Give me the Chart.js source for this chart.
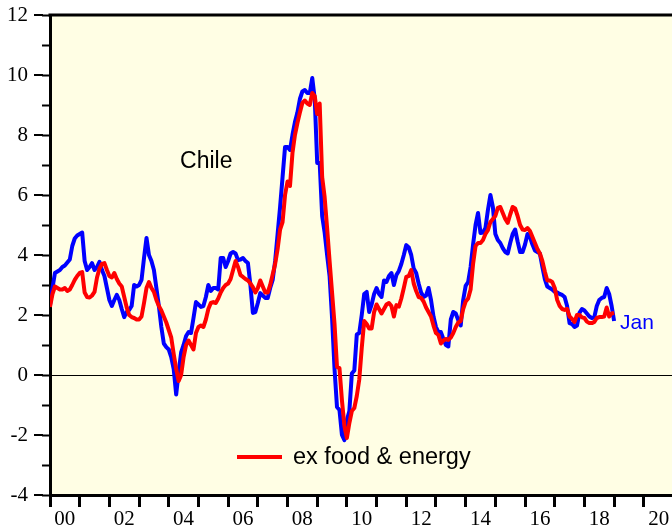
<!DOCTYPE html>
<html>
<head>
<meta charset="utf-8">
<script src="https://cdn.jsdelivr.net/npm/chart.js@4.4.1/dist/chart.umd.min.js"></script>
<style>
  html, body { margin: 0; padding: 0; background: #fff; overflow: hidden; }
</style>
</head>
<body>
<canvas id="myChart" width="672" height="529"></canvas>
<script>
// first month of the series, monthly data after that
const startYear = 2000

// headline cpi, % y/y (blue)
const headline = [
  2.33, 2.9, 3.4, 3.45, 3.5, 3.6, 3.65, 3.75, 3.85, 4.3, 4.55, 4.65,      // 2000
  4.7, 4.75, 3.8, 3.5, 3.6, 3.73, 3.5, 3.6, 3.77, 3.5, 3.3, 2.9,          // 2001
  2.5, 2.3, 2.5, 2.67, 2.5, 2.2, 1.93, 2.1, 2.17, 2.3, 3.0, 2.95,         // 2002
  3.0, 3.17, 3.9, 4.57, 4.0, 3.8, 3.5, 2.9, 2.3, 1.6, 1.05, 0.93,         // 2003
  0.85, 0.6, 0.2, -0.65, 0.1, 0.75, 1.0, 1.3, 1.43, 1.4, 1.9, 2.43,       // 2004
  2.35, 2.27, 2.3, 2.6, 3.0, 2.8, 2.9, 2.9, 2.85, 3.9, 3.9, 3.6,          // 2005
  3.8, 4.05, 4.1, 4.05, 3.83, 3.85, 3.9, 3.8, 3.73, 3.0, 2.07, 2.1,       // 2006
  2.4, 2.73, 2.65, 2.57, 2.57, 2.9, 3.17, 3.8, 4.7, 5.6, 6.6, 7.6,        // 2007
  7.6, 7.5, 8.0, 8.43, 8.75, 9.2, 9.45, 9.5, 9.4, 9.4, 9.9, 9.2,          // 2008
  7.07, 7.07, 5.3, 4.75, 4.0, 3.3, 1.9, 0.2, -1.07, -1.17, -2.0, -2.17,   // 2009
  -1.5, -1.2, 0.05, 0.15, 1.35, 1.4, 2.0, 2.7, 2.77, 2.1, 2.35, 2.7,      // 2010
  2.9, 2.7, 2.6, 3.15, 3.1, 3.3, 3.4, 3.0, 3.33, 3.47, 3.7, 4.0,          // 2011
  4.33, 4.25, 4.0, 3.55, 3.4, 3.05, 2.75, 2.6, 2.65, 2.9, 2.5, 1.95,      // 2012
  1.6, 1.43, 1.43, 1.2, 1.0, 0.95, 1.85, 2.1, 2.05, 1.83, 1.65, 2.5,      // 2013
  2.97, 3.1, 3.6, 4.35, 5.0, 5.4, 4.73, 4.75, 4.9, 5.5, 6.0, 5.6,         // 2014
  4.7, 4.5, 4.4, 4.23, 4.1, 4.05, 4.4, 4.7, 4.85, 4.45, 4.1, 4.1,         // 2015
  4.35, 4.7, 4.6, 4.35, 4.15, 4.1, 4.05, 3.6, 3.2, 2.95, 2.9, 2.85,       // 2016
  2.77, 2.75, 2.7, 2.67, 2.6, 2.3, 1.73, 1.7, 1.6, 1.65, 2.07, 2.2,       // 2017
  2.15, 2.05, 1.95, 1.9, 1.93, 2.3, 2.5, 2.57, 2.6, 2.9, 2.7, 2.3,        // 2018
  1.8                                                                     // 2019
]

// ex food & energy (red)
const exFoodEnergy = [
  2.27, 2.7, 2.95, 2.9, 2.85, 2.85, 2.9, 2.8, 2.85, 3.0, 3.17, 3.3,       // 2000
  3.4, 3.43, 2.75, 2.6, 2.58, 2.65, 2.77, 3.25, 3.55, 3.7, 3.73, 3.5,     // 2001
  3.3, 3.25, 3.4, 3.2, 3.05, 2.95, 2.6, 2.25, 2.0, 1.93, 1.9, 1.85,       // 2002
  1.85, 1.95, 2.4, 2.9, 3.1, 2.9, 2.77, 2.5, 2.3, 2.15, 1.95, 1.75,       // 2003
  1.5, 1.25, 0.7, 0.2, -0.2, 0.0, 0.6, 1.0, 1.15, 1.0, 0.85, 1.4,         // 2004
  1.6, 1.65, 1.6, 1.85, 2.2, 2.4, 2.43, 2.4, 2.55, 2.75, 2.9, 3.0,        // 2005
  3.05, 3.2, 3.5, 3.8, 3.6, 3.33, 3.27, 3.2, 3.15, 3.05, 2.93, 2.75,      // 2006
  2.9, 3.15, 2.95, 2.75, 2.75, 3.0, 3.35, 3.7, 4.2, 4.85, 5.1, 6.0,       // 2007
  6.45, 6.3, 7.4, 8.0, 8.4, 8.75, 9.07, 9.15, 9.05, 9.0, 9.4, 9.3,        // 2008
  8.7, 9.05, 6.6, 5.93, 4.9, 3.8, 2.75, 1.7, 0.27, 0.23, -0.85, -1.7,     // 2009
  -2.1, -1.6, -1.2, -1.1, -0.7, -0.15, 0.9, 1.8, 1.7, 1.55, 1.55, 2.1,    // 2010
  2.35, 2.2, 2.05, 2.2, 2.35, 2.4, 2.3, 1.95, 2.33, 2.28, 2.55, 2.9,      // 2011
  3.27, 3.3, 3.5, 3.05, 2.8, 2.6, 2.57, 2.45, 2.25, 2.1, 1.95, 1.65,      // 2012
  1.4, 1.33, 1.05, 1.15, 1.2, 1.17, 1.25, 1.4, 1.6, 1.75, 1.8, 2.2,       // 2013
  2.45, 2.55, 2.85, 3.7, 4.3, 4.4, 4.4, 4.5, 4.7, 4.83, 5.1, 5.2,         // 2014
  5.3, 5.57, 5.6, 5.4, 5.2, 5.07, 5.35, 5.6, 5.55, 5.3, 5.0, 4.85,        // 2015
  4.83, 4.9, 4.8, 4.6, 4.4, 4.2, 4.05, 3.8, 3.45, 3.15, 3.15, 3.1,        // 2016
  2.9, 2.5, 2.3, 2.2, 2.17, 2.2, 1.95, 1.87, 1.77, 2.0, 2.0, 1.92,        // 2017
  1.9, 1.78, 1.73, 1.73, 1.77, 1.9, 1.93, 1.93, 1.95, 2.25, 1.95, 2.05,   // 2018
  2.07                                                                    // 2019
]

// x axis labels, one for every second year
const yearLabels = ['00', '02', '04', '06', '08', '10', '12', '14', '16', '18', '20']

const country = 'Chile'
const countryAt = [2004.38, 7.1]   // year, value
const lastMonth = 'Jan'
const legendText = 'ex food & energy'

const blue = '#0000ff'
const red = '#ff0000'
const plotBg = '#fffee4'

const toPoints = arr => arr.map((v, i) => ({ x: startYear + i / 12, y: v }))

const tickFont = { family: '"Liberation Serif", "Times New Roman", serif', size: 21 }
const textFont = '"Liberation Sans", Arial, sans-serif'

// background, top frame, long ticks, texts
const decor = {
  id: 'decor',
  beforeDraw(chart) {
    const { ctx, chartArea: a } = chart
    ctx.save()
    ctx.fillStyle = plotBg
    ctx.fillRect(a.left, a.top, a.right - a.left, a.bottom - a.top)
    ctx.restore()
  },
  afterDraw(chart) {
    const { ctx, chartArea: a, scales } = chart
    const y = scales.y
    ctx.save()
    ctx.strokeStyle = '#000'
    ctx.lineWidth = 3
    ctx.beginPath()
    ctx.moveTo(a.left - 1.5, a.top)
    ctx.lineTo(a.right, a.top)
    ctx.stroke()

    // labelled ticks are twice as long
    ctx.lineWidth = 2
    y.ticks.forEach(t => {
      if (t.value % 2 !== 0) return
      const py = y.getPixelForValue(t.value)
      ctx.beginPath()
      ctx.moveTo(a.left - 16, py)
      ctx.lineTo(a.left - 7, py)
      ctx.stroke()
    })

    ctx.textBaseline = 'middle'
    ctx.textAlign = 'left'
    ctx.fillStyle = '#000'
    ctx.font = '23px ' + textFont
    ctx.fillText(country, scales.x.getPixelForValue(countryAt[0]), y.getPixelForValue(countryAt[1]))

    const last = chart.getDatasetMeta(1).data.at(-1)
    ctx.fillStyle = blue
    ctx.font = '21px ' + textFont
    ctx.fillText(lastMonth, last.x + 6, last.y + 2)

    // legend, red line only
    ctx.strokeStyle = red
    ctx.lineWidth = 4
    ctx.beginPath()
    ctx.moveTo(237, 457)
    ctx.lineTo(282, 457)
    ctx.stroke()
    ctx.fillStyle = '#000'
    ctx.font = '23.5px ' + textFont
    ctx.fillText(legendText, 293, 458)
    ctx.restore()
  }
}

const ctx = document.getElementById('myChart')
new Chart(ctx, {
  type: 'line',
  data: {
    datasets: [{
      label: legendText,
      data: toPoints(exFoodEnergy),
      borderColor: red,
      borderWidth: 4,
      pointRadius: 0,
      tension: 0,
      borderJoinStyle: 'round'
    }, {
      label: 'cpi',
      data: toPoints(headline),
      borderColor: blue,
      borderWidth: 4,
      pointRadius: 0,
      tension: 0,
      borderJoinStyle: 'round'
    }]
  },
  options: {
    responsive: false,
    animation: false,
    layout: { padding: { top: 15, left: 0, right: 0, bottom: 0 } },
    plugins: { legend: { display: false }, tooltip: { enabled: false } },
    scales: {
      x: {
        type: 'linear',
        min: 2000,
        max: 2020.95,
        grid: { drawOnChartArea: false, tickLength: 12, tickWidth: 3, tickColor: '#000' },
        border: { color: '#000', width: 3 },
        ticks: {
          stepSize: 1,
          includeBounds: false,
          autoSkip: false,
          maxRotation: 0,
          labelOffset: 14.85,
          padding: 0,
          color: '#000',
          font: tickFont,
          callback: v => (v - startYear) % 2 === 0 ? yearLabels[(v - startYear) / 2] : ''
        },
        afterFit: s => { s.height = 34; s.paddingLeft = 0; s.paddingRight = 0 }
      },
      y: {
        min: -4,
        max: 12,
        grid: {
          color: c => c.tick && c.tick.value === 0 ? '#000' : 'rgba(0,0,0,0)',
          lineWidth: 1,
          tickLength: 8,
          tickWidth: 2,
          tickColor: '#000'
        },
        border: { color: '#000', width: 3 },
        ticks: {
          stepSize: 1,
          padding: 14,
          color: '#000',
          font: tickFont,
          callback: v => v % 2 === 0 ? v : ''
        },
        afterFit: s => { s.width = 50; s.paddingTop = 0; s.paddingBottom = 0 }
      }
    }
  },
  plugins: [decor]
})
</script>
</body>
</html>
